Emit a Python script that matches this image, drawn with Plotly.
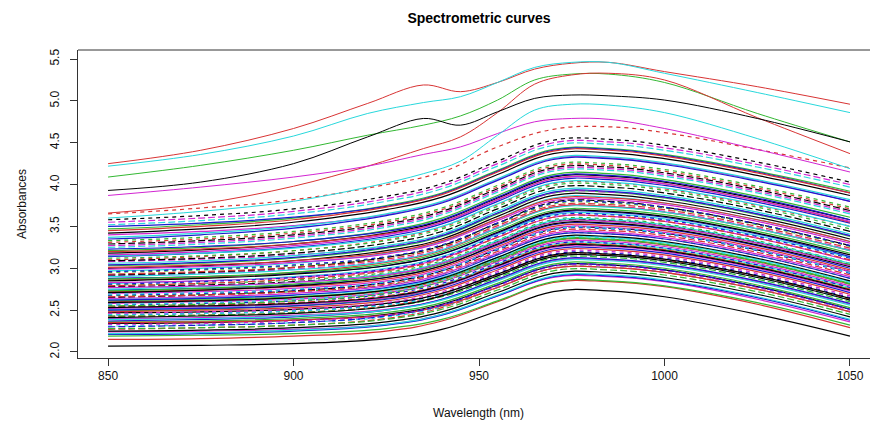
import plotly.graph_objects as go

# ---------------- data ----------------
wavelength_band = [850, 875, 900, 925, 940, 955, 970, 985, 1000, 1025, 1050]
wavelength_fine = [850, 875, 900, 920, 935, 945, 955, 965, 975, 985, 1000, 1025, 1050]

# upper outlying spectra (sampled on wavelength_fine)
red_top   = [4.25, 4.41, 4.67, 4.97, 5.19, 5.11, 5.22, 5.38, 5.45, 5.46, 5.35, 5.17, 4.96]
cyan_top  = [4.22, 4.36, 4.58, 4.85, 4.98, 5.05, 5.22, 5.40, 5.46, 5.46, 5.33, 5.10, 4.86]
green_top = [4.09, 4.23, 4.41, 4.59, 4.71, 4.82, 5.01, 5.25, 5.32, 5.32, 5.22, 4.85, 4.51]
red_second = [3.66, 3.77, 3.98, 4.22, 4.43, 4.57, 4.86, 5.20, 5.31, 5.33, 5.25, 4.80, 4.37]
black_top = [3.93, 4.03, 4.25, 4.57, 4.79, 4.71, 4.87, 5.03, 5.07, 5.06, 5.01, 4.79, 4.51]
magenta_top = [3.87, 3.97, 4.09, 4.22, 4.36, 4.45, 4.61, 4.75, 4.79, 4.78, 4.67, 4.42, 4.15]
cyan_second = [3.60, 3.68, 3.80, 3.97, 4.13, 4.28, 4.59, 4.89, 4.96, 4.95, 4.86, 4.55, 4.19]

outlier_curves = [red_top, cyan_top, green_top, red_second, black_top, magenta_top, cyan_second]
outlier_colour_idx = [1, 4, 2, 1, 0, 5, 4]

# main bundle of spectra (sampled on wavelength_band)
band_absorbance = [
    [2.07, 2.08, 2.10, 2.16, 2.27, 2.49, 2.72, 2.73, 2.66, 2.45, 2.19],
    [2.15, 2.16, 2.19, 2.25, 2.37, 2.60, 2.83, 2.84, 2.78, 2.57, 2.29],
    [2.19, 2.20, 2.22, 2.28, 2.39, 2.61, 2.84, 2.85, 2.79, 2.59, 2.32],
    [2.21, 2.22, 2.25, 2.32, 2.44, 2.67, 2.90, 2.91, 2.85, 2.65, 2.38],
    [2.22, 2.23, 2.26, 2.33, 2.45, 2.68, 2.91, 2.92, 2.86, 2.66, 2.39],
    [2.24, 2.25, 2.27, 2.33, 2.45, 2.67, 2.89, 2.90, 2.84, 2.63, 2.36],
    [2.25, 2.26, 2.29, 2.36, 2.48, 2.71, 2.94, 2.95, 2.89, 2.69, 2.42],
    [2.27, 2.29, 2.32, 2.40, 2.53, 2.77, 3.00, 3.01, 2.95, 2.75, 2.48],
    [2.28, 2.29, 2.32, 2.39, 2.51, 2.74, 2.97, 2.98, 2.92, 2.72, 2.45],
    [2.30, 2.32, 2.35, 2.43, 2.56, 2.80, 3.03, 3.04, 2.98, 2.78, 2.51],
    [2.31, 2.32, 2.35, 2.42, 2.54, 2.77, 3.00, 3.01, 2.95, 2.75, 2.48],
    [2.33, 2.34, 2.37, 2.44, 2.56, 2.79, 3.02, 3.03, 2.97, 2.77, 2.50],
    [2.34, 2.35, 2.38, 2.45, 2.57, 2.80, 3.03, 3.04, 2.98, 2.78, 2.51],
    [2.35, 2.36, 2.38, 2.44, 2.55, 2.77, 3.00, 3.01, 2.95, 2.75, 2.48],
    [2.36, 2.37, 2.40, 2.47, 2.59, 2.82, 3.05, 3.06, 3.00, 2.80, 2.53],
    [2.37, 2.39, 2.42, 2.50, 2.63, 2.87, 3.10, 3.11, 3.05, 2.85, 2.58],
    [2.39, 2.40, 2.43, 2.50, 2.62, 2.85, 3.08, 3.09, 3.03, 2.83, 2.56],
    [2.40, 2.41, 2.44, 2.51, 2.63, 2.86, 3.09, 3.10, 3.04, 2.84, 2.57],
    [2.41, 2.43, 2.46, 2.54, 2.67, 2.91, 3.14, 3.15, 3.09, 2.89, 2.62],
    [2.42, 2.44, 2.47, 2.55, 2.68, 2.92, 3.15, 3.16, 3.10, 2.90, 2.63],
    [2.43, 2.44, 2.47, 2.54, 2.66, 2.89, 3.12, 3.13, 3.07, 2.87, 2.60],
    [2.44, 2.46, 2.49, 2.57, 2.70, 2.94, 3.17, 3.18, 3.12, 2.92, 2.65],
    [2.45, 2.46, 2.49, 2.56, 2.68, 2.91, 3.14, 3.15, 3.09, 2.89, 2.62],
    [2.46, 2.48, 2.51, 2.59, 2.72, 2.96, 3.19, 3.20, 3.14, 2.94, 2.67],
    [2.47, 2.48, 2.51, 2.58, 2.70, 2.93, 3.16, 3.17, 3.11, 2.91, 2.64],
    [2.48, 2.50, 2.53, 2.61, 2.74, 2.98, 3.21, 3.22, 3.16, 2.96, 2.69],
    [2.49, 2.51, 2.55, 2.64, 2.78, 3.03, 3.27, 3.28, 3.22, 3.02, 2.75],
    [2.50, 2.52, 2.55, 2.63, 2.76, 3.00, 3.23, 3.24, 3.18, 2.98, 2.71],
    [2.51, 2.53, 2.57, 2.66, 2.80, 3.05, 3.29, 3.30, 3.24, 3.04, 2.77],
    [2.52, 2.54, 2.57, 2.65, 2.78, 3.02, 3.25, 3.26, 3.20, 3.00, 2.73],
    [2.53, 2.55, 2.58, 2.66, 2.79, 3.03, 3.26, 3.27, 3.21, 3.01, 2.74],
    [2.54, 2.56, 2.59, 2.67, 2.80, 3.04, 3.27, 3.28, 3.22, 3.02, 2.75],
    [2.55, 2.57, 2.61, 2.70, 2.84, 3.09, 3.33, 3.34, 3.28, 3.08, 2.81],
    [2.56, 2.58, 2.61, 2.69, 2.82, 3.06, 3.29, 3.30, 3.24, 3.04, 2.77],
    [2.57, 2.59, 2.63, 2.72, 2.86, 3.11, 3.35, 3.36, 3.30, 3.10, 2.83],
    [2.58, 2.60, 2.63, 2.71, 2.84, 3.08, 3.31, 3.32, 3.26, 3.06, 2.79],
    [2.59, 2.61, 2.65, 2.74, 2.88, 3.13, 3.37, 3.38, 3.32, 3.12, 2.85],
    [2.60, 2.62, 2.65, 2.73, 2.86, 3.10, 3.33, 3.34, 3.28, 3.08, 2.81],
    [2.61, 2.63, 2.66, 2.74, 2.87, 3.11, 3.34, 3.35, 3.29, 3.09, 2.82],
    [2.62, 2.64, 2.68, 2.77, 2.91, 3.16, 3.40, 3.41, 3.35, 3.15, 2.88],
    [2.63, 2.65, 2.68, 2.76, 2.89, 3.13, 3.36, 3.37, 3.31, 3.11, 2.84],
    [2.64, 2.66, 2.70, 2.79, 2.93, 3.18, 3.42, 3.43, 3.37, 3.17, 2.90],
    [2.65, 2.68, 2.73, 2.83, 2.97, 3.23, 3.47, 3.48, 3.42, 3.22, 2.96],
    [2.66, 2.68, 2.72, 2.81, 2.95, 3.20, 3.44, 3.45, 3.39, 3.19, 2.92],
    [2.67, 2.69, 2.72, 2.80, 2.93, 3.17, 3.40, 3.41, 3.35, 3.15, 2.88],
    [2.68, 2.70, 2.74, 2.83, 2.97, 3.22, 3.46, 3.47, 3.41, 3.21, 2.94],
    [2.69, 2.71, 2.75, 2.84, 2.98, 3.23, 3.47, 3.48, 3.42, 3.22, 2.95],
    [2.70, 2.72, 2.76, 2.85, 2.99, 3.24, 3.48, 3.49, 3.43, 3.23, 2.96],
    [2.71, 2.74, 2.79, 2.89, 3.03, 3.29, 3.53, 3.54, 3.48, 3.28, 3.02],
    [2.72, 2.74, 2.78, 2.87, 3.01, 3.26, 3.50, 3.51, 3.45, 3.25, 2.98],
    [2.73, 2.76, 2.81, 2.91, 3.05, 3.31, 3.55, 3.56, 3.50, 3.30, 3.04],
    [2.74, 2.76, 2.80, 2.89, 3.03, 3.28, 3.52, 3.53, 3.47, 3.27, 3.00],
    [2.75, 2.78, 2.83, 2.93, 3.07, 3.33, 3.57, 3.58, 3.52, 3.32, 3.06],
    [2.77, 2.79, 2.83, 2.92, 3.06, 3.31, 3.55, 3.56, 3.50, 3.30, 3.03],
    [2.78, 2.80, 2.84, 2.93, 3.07, 3.32, 3.56, 3.57, 3.51, 3.31, 3.04],
    [2.79, 2.82, 2.87, 2.97, 3.11, 3.37, 3.61, 3.62, 3.56, 3.36, 3.10],
    [2.80, 2.82, 2.86, 2.95, 3.09, 3.34, 3.58, 3.59, 3.53, 3.33, 3.06],
    [2.81, 2.84, 2.89, 2.99, 3.13, 3.39, 3.63, 3.64, 3.58, 3.38, 3.12],
    [2.82, 2.85, 2.90, 3.00, 3.14, 3.40, 3.64, 3.65, 3.59, 3.39, 3.13],
    [2.83, 2.85, 2.89, 2.98, 3.12, 3.37, 3.61, 3.62, 3.56, 3.36, 3.09],
    [2.85, 2.88, 2.93, 3.03, 3.17, 3.43, 3.67, 3.68, 3.62, 3.42, 3.16],
    [2.86, 2.89, 2.95, 3.07, 3.21, 3.48, 3.73, 3.74, 3.67, 3.47, 3.21],
    [2.87, 2.90, 2.95, 3.05, 3.19, 3.45, 3.69, 3.70, 3.64, 3.44, 3.18],
    [2.88, 2.90, 2.94, 3.03, 3.17, 3.42, 3.66, 3.67, 3.61, 3.41, 3.14],
    [2.90, 2.93, 2.98, 3.08, 3.22, 3.48, 3.72, 3.73, 3.67, 3.47, 3.21],
    [2.91, 2.94, 2.99, 3.09, 3.23, 3.49, 3.73, 3.74, 3.68, 3.48, 3.22],
    [2.92, 2.95, 3.01, 3.13, 3.27, 3.54, 3.79, 3.80, 3.73, 3.53, 3.27],
    [2.93, 2.96, 3.01, 3.11, 3.25, 3.51, 3.75, 3.76, 3.70, 3.50, 3.24],
    [2.95, 2.98, 3.03, 3.13, 3.27, 3.53, 3.77, 3.78, 3.72, 3.52, 3.26],
    [2.96, 2.99, 3.04, 3.14, 3.28, 3.54, 3.78, 3.79, 3.73, 3.53, 3.27],
    [2.97, 3.00, 3.06, 3.18, 3.32, 3.59, 3.84, 3.85, 3.78, 3.58, 3.32],
    [2.99, 3.02, 3.07, 3.17, 3.31, 3.57, 3.81, 3.82, 3.76, 3.56, 3.30],
    [3.00, 3.03, 3.09, 3.21, 3.35, 3.62, 3.87, 3.88, 3.81, 3.61, 3.35],
    [3.01, 3.04, 3.09, 3.19, 3.33, 3.59, 3.83, 3.84, 3.78, 3.58, 3.32],
    [3.03, 3.06, 3.12, 3.24, 3.38, 3.65, 3.90, 3.91, 3.84, 3.64, 3.38],
    [3.04, 3.07, 3.13, 3.25, 3.39, 3.66, 3.91, 3.92, 3.85, 3.65, 3.39],
    [3.06, 3.09, 3.15, 3.27, 3.41, 3.68, 3.93, 3.94, 3.87, 3.67, 3.41],
    [3.08, 3.11, 3.16, 3.26, 3.40, 3.66, 3.90, 3.91, 3.85, 3.65, 3.39],
    [3.09, 3.12, 3.18, 3.30, 3.44, 3.71, 3.96, 3.97, 3.90, 3.70, 3.44],
    [3.10, 3.14, 3.21, 3.34, 3.49, 3.76, 4.01, 4.02, 3.95, 3.75, 3.50],
    [3.12, 3.15, 3.21, 3.33, 3.47, 3.74, 3.99, 4.00, 3.93, 3.73, 3.47],
    [3.14, 3.18, 3.25, 3.38, 3.53, 3.80, 4.05, 4.06, 3.99, 3.79, 3.54],
    [3.15, 3.18, 3.24, 3.36, 3.50, 3.77, 4.02, 4.03, 3.96, 3.76, 3.50],
    [3.16, 3.20, 3.27, 3.40, 3.55, 3.82, 4.07, 4.08, 4.01, 3.81, 3.56],
    [3.18, 3.22, 3.29, 3.42, 3.57, 3.84, 4.09, 4.10, 4.03, 3.83, 3.58],
    [3.20, 3.23, 3.29, 3.41, 3.55, 3.82, 4.07, 4.08, 4.01, 3.81, 3.55],
    [3.21, 3.25, 3.32, 3.45, 3.60, 3.87, 4.12, 4.13, 4.06, 3.86, 3.61],
    [3.23, 3.26, 3.32, 3.44, 3.58, 3.85, 4.10, 4.11, 4.04, 3.84, 3.58],
    [3.25, 3.29, 3.36, 3.49, 3.64, 3.91, 4.16, 4.17, 4.10, 3.90, 3.65],
    [3.27, 3.31, 3.38, 3.51, 3.66, 3.93, 4.18, 4.19, 4.12, 3.92, 3.67],
    [3.29, 3.33, 3.40, 3.53, 3.68, 3.95, 4.20, 4.21, 4.14, 3.94, 3.69],
    [3.31, 3.35, 3.42, 3.55, 3.70, 3.97, 4.22, 4.23, 4.16, 3.96, 3.71],
    [3.33, 3.37, 3.44, 3.57, 3.72, 3.99, 4.24, 4.25, 4.18, 3.98, 3.73],
    [3.35, 3.40, 3.48, 3.63, 3.78, 4.05, 4.30, 4.31, 4.24, 4.04, 3.80],
    [3.37, 3.42, 3.50, 3.65, 3.80, 4.07, 4.32, 4.33, 4.26, 4.06, 3.82],
    [3.40, 3.44, 3.51, 3.64, 3.79, 4.06, 4.31, 4.32, 4.25, 4.05, 3.80],
    [3.42, 3.47, 3.55, 3.70, 3.85, 4.12, 4.37, 4.38, 4.31, 4.11, 3.87],
    [3.45, 3.50, 3.58, 3.73, 3.88, 4.15, 4.40, 4.41, 4.34, 4.14, 3.90],
    [3.47, 3.52, 3.60, 3.75, 3.90, 4.17, 4.42, 4.43, 4.36, 4.16, 3.92],
    [3.50, 3.54, 3.61, 3.74, 3.89, 4.16, 4.41, 4.42, 4.35, 4.15, 3.90],
    [3.52, 3.57, 3.65, 3.80, 3.95, 4.22, 4.47, 4.48, 4.41, 4.21, 3.97],
    [3.55, 3.60, 3.68, 3.83, 3.98, 4.25, 4.50, 4.51, 4.44, 4.24, 4.00],
    [3.58, 3.63, 3.71, 3.86, 4.01, 4.28, 4.53, 4.54, 4.47, 4.27, 4.03],
    [3.65, 3.72, 3.82, 4.00, 4.15, 4.45, 4.66, 4.69, 4.62, 4.42, 4.20],
]

x_ticks = [850, 900, 950, 1000, 1050]
y_ticks = [2.0, 2.5, 3.0, 3.5, 4.0, 4.5, 5.0, 5.5]
y_tick_text = ["2.0", "2.5", "3.0", "3.5", "4.0", "4.5", "5.0", "5.5"]

# ---------------- styling ----------------
palette = ["#000000", "#D83434", "#33B833", "#1A1ACF", "#28D8DC", "#D225D2"]
dashes = ["solid", "solid", "4px,4px", "solid", "7px,3px"]

fig = go.Figure()

n = len(band_absorbance)
order = [(i * 37) % n for i in range(n)]
for k, i in enumerate(order):
    fig.add_trace(go.Scatter(
        x=wavelength_band, y=band_absorbance[i], mode="lines",
        line=dict(color=palette[i % 6], width=1.2, dash=dashes[(k * 3) % 5],
                  shape="spline", smoothing=1.2),
        showlegend=False, hoverinfo="skip"))

for curve, ci in zip(outlier_curves, outlier_colour_idx):
    fig.add_trace(go.Scatter(
        x=wavelength_fine, y=curve, mode="lines",
        line=dict(color=palette[ci], width=1, shape="spline"),
        showlegend=False, hoverinfo="skip"))

font = "Liberation Sans, Arial, sans-serif"
fig.update_layout(
    width=870, height=425,
    margin=dict(l=78, r=0, t=50, b=67),
    paper_bgcolor="white", plot_bgcolor="white",
    font=dict(family=font, size=12, color="#111"),
    title=dict(text="<b>Spectrometric curves</b>", x=479 / 870, xref="container",
               xanchor="center", y=1 - 18 / 425, yref="container", yanchor="middle",
               font=dict(family=font, size=14, color="#000")),
    xaxis=dict(range=[841.9, 1055.4], tickvals=x_ticks, ticks="outside", ticklen=7,
               tickcolor="#333", showline=True, linecolor="#333", linewidth=1,
               showgrid=False, zeroline=False, tickfont=dict(size=12)),
    yaxis=dict(range=[1.928, 5.608], tickvals=y_ticks, ticktext=y_tick_text,
               ticks="outside", ticklen=7, tickcolor="#333", tickangle=-90,
               showline=True, linecolor="#333", linewidth=1, showgrid=False,
               zeroline=False, tickfont=dict(size=12), ticklabelstandoff=6),
    shapes=[dict(type="line", xref="paper", yref="paper", x0=0, x1=1, y0=1, y1=1,
                 line=dict(color="#333", width=1))],
    annotations=[
        dict(text="Wavelength (nm)", xref="paper", yref="paper",
             x=(479 - 78) / 792, y=-(413 - 358) / 308, xanchor="center", yanchor="middle",
             showarrow=False, font=dict(size=12, color="#111")),
        dict(text="Absorbances", xref="paper", yref="paper",
             x=-(78 - 22) / 792, y=0.5, xanchor="center", yanchor="middle",
             textangle=-90, showarrow=False, font=dict(size=12, color="#111")),
    ],
)

fig.write_html("out.html")
